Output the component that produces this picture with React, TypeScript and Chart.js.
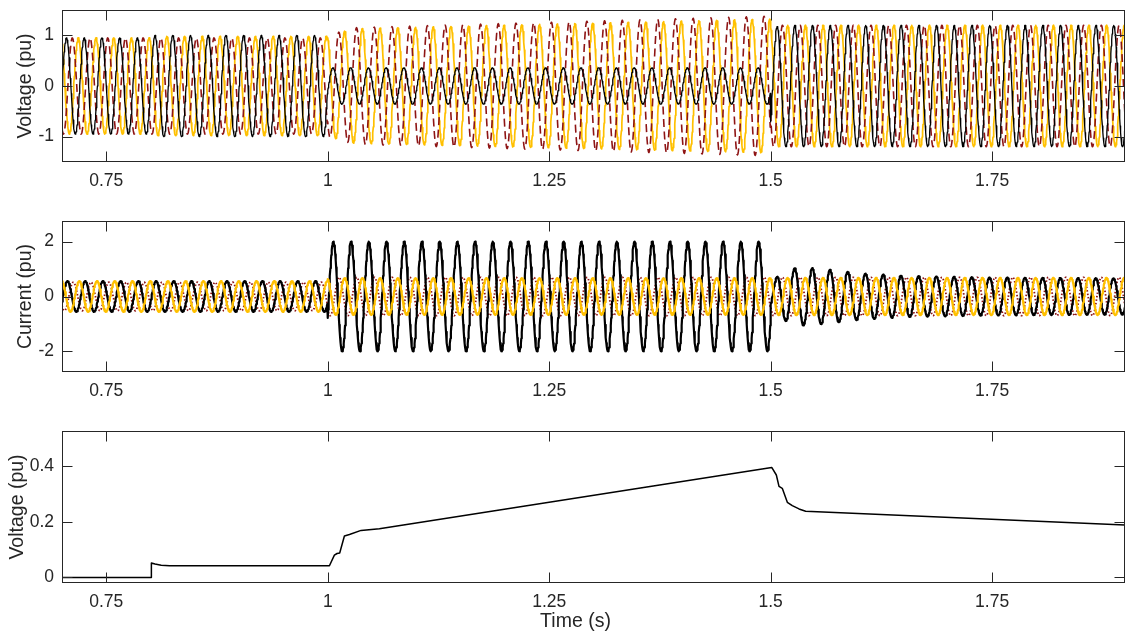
import React, { useEffect, useRef } from "react";
import { Chart, registerables } from "chart.js";

Chart.register(...registerables);

// ---------- data ----------
const T_MIN = 0.7;
const T_MAX = 1.9;
const FREQ_HZ = 50;
const SAMPLE_STEP = 0.0005;

const X_TICKS = [0.75, 1, 1.25, 1.5, 1.75];
const VOLT_TICKS = [-1, 0, 1];
const CURR_TICKS = [-2, 0, 2];
const NEUT_TICKS = [0, 0.2, 0.4];
const X_TITLE = "Time (s)";

// phase-voltage envelopes: [time (s), amplitude (pu)]
const VA_ENV = [[0.7, 0.95], [0.8, 0.95], [0.8, 1.0], [1.0, 1.0], [1.0, 0.36], [1.5, 0.36], [1.5, 1.1], [1.51, 1.2], [1.9, 1.2]];
const VA_PHASE = [[0.7, 0], [1.0, -15], [1.5, -40]];
const VB_ENV = [[0.7, 0.95], [1.0, 0.95], [1.0, 1.0], [1.03, 1.15], [1.5, 1.38], [1.5, 1.2], [1.9, 1.2]];
const VB_PHASE = [[0.7, -120], [1.0, -135], [1.5, -150]];
const VC_ENV = [[0.7, 0.95], [0.8, 0.95], [0.8, 0.98], [1.0, 0.98], [1.0, 1.0], [1.03, 1.13], [1.5, 1.32], [1.5, 1.2], [1.9, 1.2]];
const VC_PHASE = [[0.7, 120], [1.0, 108], [1.5, 105]];

// phase-current envelopes: [time (s), amplitude (pu)]
const IA_ENV = [[0.7, 0.56], [1.0, 0.56], [1.0, 2.0], [1.5, 2.0], [1.5, 0.5], [1.51, 0.8], [1.53, 1.07], [1.56, 1.0], [1.6, 0.85], [1.65, 0.75], [1.75, 0.69], [1.9, 0.66]];
const IA_PHASE = [[0.7, -20], [1.0, -23], [1.5, -35]];
const IB_ENV = [[0.7, 0.52], [1.0, 0.52], [1.0, 0.7], [1.9, 0.7]];
const IB_PHASE = [[0.7, -140], [1.0, -140], [1.5, -150]];
const IC_ENV = [[0.7, 0.56], [1.0, 0.56], [1.0, 0.67], [1.5, 0.67], [1.5, 0.68], [1.9, 0.68]];
const IC_PHASE = [[0.7, 100], [1.0, 108], [1.5, 108]];

// neutral voltage
const NEUT_T = [0.7, 0.8008, 0.8009, 0.805, 0.812, 0.8215, 1.0019, 1.0075, 1.0105, 1.0135, 1.0188, 1.0245, 1.0376, 1.0583, 1.5012, 1.5064, 1.5094, 1.5131, 1.5188, 1.5244, 1.532, 1.5395, 1.9];
const NEUT_V = [0, 0, 0.052, 0.048, 0.044, 0.042, 0.042, 0.08, 0.086, 0.088, 0.149, 0.154, 0.169, 0.175, 0.395, 0.368, 0.327, 0.32, 0.27, 0.258, 0.246, 0.238, 0.188];

// ---------- styles ----------
const BLACK = "#000000";
const DARK_RED = "#8E1414";
const YELLOW = "#FFC000";
const AXIS_COLOR = "#262626";
const FONT_FAMILY = "'Liberation Sans', Arial, Helvetica, sans-serif";
const TICK_FONT = 17.5;
const TITLE_FONT = 19.5;
const TICK_LEN = 10;

function envAt(knots: number[][], t: number) {
  let k = 0;
  for (let i = 0; i < knots.length; i++) if (knots[i][0] <= t + 1e-9) k = i;
  if (k >= knots.length - 1) return knots[k][1];
  const [t0, a0] = knots[k];
  const [t1, a1] = knots[k + 1];
  if (t1 <= t0) return a1;
  return a0 + ((a1 - a0) * (t - t0)) / (t1 - t0);
}

function phaseAt(knots: number[][], t: number) {
  let p = knots[0][1];
  for (const [t0, ph] of knots) if (t0 <= t + 1e-9) p = ph;
  return p;
}

function wave(env: number[][], phase: number[][]) {
  const pts: { x: number; y: number }[] = [];
  const n = Math.round((T_MAX - T_MIN) / SAMPLE_STEP);
  for (let i = 0; i <= n; i++) {
    const t = T_MIN + i * SAMPLE_STEP;
    const a = envAt(env, t);
    const ph = (phaseAt(phase, t) * Math.PI) / 180;
    pts.push({ x: t, y: a * Math.sin(2 * Math.PI * FREQ_HZ * t + ph) });
  }
  return pts;
}

const framePlugin = {
  id: "frame",
  afterDatasetsDraw(chart: any) {
    const { ctx, chartArea: a, scales } = chart;
    const left = Math.round(a.left) + 0.5;
    const right = Math.round(a.right) - 0.5;
    const top = Math.round(a.top) + 0.5;
    const bottom = Math.round(a.bottom) - 0.5;
    ctx.save();
    ctx.strokeStyle = AXIS_COLOR;
    ctx.lineWidth = 1;
    ctx.beginPath();
    for (const tk of scales.x.ticks) {
      const px = Math.round(scales.x.getPixelForValue(tk.value)) + 0.5;
      ctx.moveTo(px, bottom);
      ctx.lineTo(px, bottom - TICK_LEN);
      ctx.moveTo(px, top);
      ctx.lineTo(px, top + TICK_LEN);
    }
    for (const tk of scales.y.ticks) {
      const py = Math.round(scales.y.getPixelForValue(tk.value)) + 0.5;
      ctx.moveTo(left, py);
      ctx.lineTo(left + TICK_LEN, py);
      ctx.moveTo(right, py);
      ctx.lineTo(right - TICK_LEN, py);
    }
    ctx.stroke();
    ctx.strokeRect(left, top, right - left, bottom - top);

    const xTitle = chart.options.plugins.frame && chart.options.plugins.frame.xTitle;
    if (xTitle) {
      ctx.fillStyle = AXIS_COLOR;
      ctx.font = `${TITLE_FONT}px ${FONT_FAMILY}`;
      ctx.textAlign = "center";
      ctx.textBaseline = "middle";
      const cx = (a.left + a.right) / 2 - 18;
      ctx.fillText(xTitle, cx, chart.height - 10);
    }
    ctx.restore();
  },
};

type PanelOpts = {
  datasets: any[];
  yMin: number;
  yMax: number;
  yTicks: number[];
  yTitle: string;
  yTitlePad: number;
  padTop: number;
  axisH: number;
  xTitle?: string;
};

function makeConfig(o: PanelOpts): any {
  return {
    type: "line",
    data: { datasets: o.datasets },
    options: {
      responsive: false,
      animation: false,
      devicePixelRatio: 1,
      events: [],
      layout: { padding: { top: o.padTop, right: 1, left: 0, bottom: 0 } },
      plugins: {
        legend: { display: false },
        tooltip: { enabled: false },
        frame: { xTitle: o.xTitle || "" },
      },
      elements: {
        point: { radius: 0 },
        line: { tension: 0, borderJoinStyle: "round", borderCapStyle: "butt" },
      },
      scales: {
        x: {
          type: "linear",
          min: T_MIN,
          max: T_MAX,
          afterBuildTicks: (s: any) => {
            s.ticks = X_TICKS.map((v) => ({ value: v }));
          },
          afterFit: (s: any) => {
            s.height = o.axisH;
            s.paddingLeft = 0;
            s.paddingRight = 0;
          },
          grid: { display: false, drawTicks: false, tickLength: 0 },
          border: { display: false },
          ticks: {
            autoSkip: false,
            maxRotation: 0,
            padding: 9,
            color: AXIS_COLOR,
            font: { family: FONT_FAMILY, size: TICK_FONT },
            callback: (v: any) => String(v),
          },
          title: { display: false },
        },
        y: {
          type: "linear",
          min: o.yMin,
          max: o.yMax,
          afterBuildTicks: (s: any) => {
            s.ticks = o.yTicks.map((v) => ({ value: v }));
          },
          afterFit: (s: any) => {
            s.width = 62;
            s.paddingTop = 0;
            s.paddingBottom = 0;
          },
          grid: { display: false, drawTicks: false, tickLength: 0 },
          border: { display: false },
          ticks: {
            autoSkip: false,
            padding: 8,
            color: AXIS_COLOR,
            font: { family: FONT_FAMILY, size: TICK_FONT },
            callback: (v: any) => String(v),
          },
          title: {
            display: true,
            text: o.yTitle,
            color: AXIS_COLOR,
            font: { family: FONT_FAMILY, size: TITLE_FONT, lineHeight: 1 },
            padding: { top: o.yTitlePad, bottom: 0 },
          },
        },
      },
    },
    plugins: [framePlugin],
  };
}

export default function App() {
  const c1 = useRef<HTMLCanvasElement>(null);
  const c2 = useRef<HTMLCanvasElement>(null);
  const c3 = useRef<HTMLCanvasElement>(null);

  useEffect(() => {
    const charts: Chart[] = [];
    const volt = makeConfig({
      datasets: [
        { data: wave(VA_ENV, VA_PHASE), borderColor: BLACK, borderWidth: 1.3 },
        { data: wave(VB_ENV, VB_PHASE), borderColor: DARK_RED, borderWidth: 1.6, borderDash: [8, 4.5] },
        { data: wave(VC_ENV, VC_PHASE), borderColor: YELLOW, borderWidth: 1.7 },
      ],
      yMin: -1.5,
      yMax: 1.5,
      yTicks: VOLT_TICKS,
      yTitle: "Voltage (pu)",
      yTitlePad: 15.5,
      padTop: 10,
      axisH: 38,
    });
    const curr = makeConfig({
      datasets: [
        { data: wave(IC_ENV, IC_PHASE), borderColor: YELLOW, borderWidth: 2.2 },
        { data: wave(IA_ENV, IA_PHASE), borderColor: BLACK, borderWidth: 2.2 },
        { data: wave(IB_ENV, IB_PHASE), borderColor: DARK_RED, borderWidth: 1.8, borderDash: [1.5, 2] },
      ],
      yMin: -2.75,
      yMax: 2.75,
      yTicks: CURR_TICKS,
      yTitle: "Current (pu)",
      yTitlePad: 15.5,
      padTop: 21,
      axisH: 38,
    });
    const neut = makeConfig({
      datasets: [
        {
          data: NEUT_T.map((t, i) => ({ x: t, y: NEUT_V[i] })),
          borderColor: BLACK,
          borderWidth: 1.5,
        },
      ],
      yMin: -0.02,
      yMax: 0.526,
      yTicks: NEUT_TICKS,
      yTitle: "Voltage (pu)",
      yTitlePad: 7.5,
      padTop: 21,
      axisH: 49,
      xTitle: X_TITLE,
    });
    if (c1.current) charts.push(new Chart(c1.current, volt));
    if (c2.current) charts.push(new Chart(c2.current, curr));
    if (c3.current) charts.push(new Chart(c3.current, neut));
    return () => charts.forEach((c) => c.destroy());
  }, []);

  const wrap: React.CSSProperties = {
    position: "absolute",
    left: 0,
    top: 0,
    width: 1126,
    height: 632,
    background: "#ffffff",
    overflow: "hidden",
  };
  const cv = (top: number): React.CSSProperties => ({ position: "absolute", left: 0, top, display: "block" });

  return (
    <div style={wrap}>
      <canvas ref={c1} width={1126} height={200} style={cv(0)} />
      <canvas ref={c2} width={1126} height={210} style={cv(200)} />
      <canvas ref={c3} width={1126} height={222} style={cv(410)} />
    </div>
  );
}
